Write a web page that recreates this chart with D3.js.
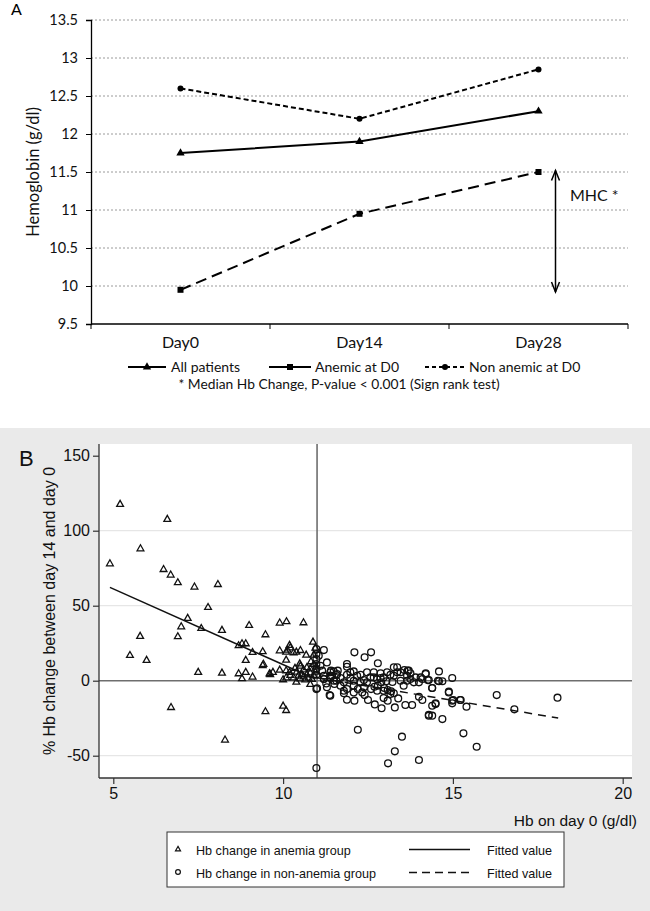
<!DOCTYPE html>
<html><head><meta charset="utf-8">
<script src="https://cdn.jsdelivr.net/npm/d3@7"></script>
<style>html,body{margin:0;padding:0;background:#fff;}svg{display:block;}</style>
</head><body>
<script>
// ---------- Panel A data ----------
const daysA = ["Day0", "Day14", "Day28"];
const allPatients = [11.75, 11.9, 12.3];
const anemicD0 = [9.95, 10.95, 11.5];
const nonAnemicD0 = [12.6, 12.2, 12.85];
const yTicksA = [9.5, 10, 10.5, 11, 11.5, 12, 12.5, 13, 13.5];
const seriesNamesA = ["All patients", "Anemic at D0", "Non anemic at D0"];
const mhcRange = [11.52, 9.92];

// ---------- Panel B data ----------
const anemiaPts = [
[4.90,78.2],[5.20,117.8],[5.80,88.2],[6.59,107.8],[6.48,74.4],[6.69,70.7],[6.90,65.6],[7.39,62.7],
[8.08,64.4],[7.79,49.1],[7.19,41.8],[7.00,36.2],[7.59,35.1],[8.20,33.8],[9.00,37.1],[9.90,38.7],
[10.10,39.6],[10.60,38.9],[5.79,29.8],[5.49,17.1],[5.98,13.8],[6.90,29.6],[8.69,23.6],[8.79,24.9],
[8.90,24.9],[9.48,30.9],[9.10,19.1],[9.40,19.6],[8.90,13.8],[9.40,10.4],[9.42,11.2],[9.90,20.2],
[10.09,19.3],[10.19,23.8],[10.21,22.2],[10.39,19.3],[10.51,20.4],[10.09,14.0],[10.49,11.5],[10.51,10.0],
[10.88,26.0],[10.68,17.3],[10.90,17.3],[10.82,12.9],[10.90,11.1],[10.31,18.9],[10.13,20.6],[10.95,22.0],
[7.50,5.8],[8.20,5.3],[8.69,4.9],[8.90,5.8],[8.79,1.6],[9.10,2.7],[9.60,4.9],[9.70,5.8],
[9.90,7.3],[10.09,6.9],[10.19,5.8],[10.00,0.9],[10.09,2.2],[10.39,-0.7],[6.70,-17.6],[8.29,-39.3],
[9.48,-20.4],[10.00,-16.7],[10.09,-19.6],[10.80,-2.2],[9.62,4.4],[10.21,3.8],[10.31,2.2],[10.45,3.5],
[10.50,1.5],[10.55,4.5],[10.60,2.8],[10.65,0.8],[10.70,4.2],[10.75,2.0],[10.80,5.5],[10.85,1.2],
[10.90,3.8],[10.95,6.0],[10.60,7.5],[10.70,9.0],[10.40,6.0],[10.35,8.5],[10.80,8.2],[10.98,9.5]
];
const nonAnemiaPts = [
[10.98,21.1],[10.98,17.8],[10.98,14.4],[10.98,11.1],[10.98,7.8],[10.98,4.0],[11.20,20.4],[11.29,12.2],
[11.10,10.0],[11.15,6.7],[11.20,3.3],[10.98,-5.6],[10.98,-58.2],[11.29,-4.4],[11.39,-10.0],[11.20,1.1],
[11.39,5.6],[11.49,6.2],[11.59,4.4],[11.44,3.3],[11.69,1.8],[11.79,-1.1],[11.57,0.0],[11.88,11.1],
[11.88,9.3],[12.10,18.9],[12.40,15.6],[12.59,18.9],[12.79,11.6],[11.98,5.6],[12.08,6.2],[12.18,3.3],
[12.28,4.0],[11.98,1.8],[12.08,0.0],[12.38,0.4],[12.47,5.6],[12.57,2.2],[12.67,2.2],[12.77,0.9],
[12.87,1.8],[12.96,2.2],[13.06,5.6],[13.16,4.0],[13.26,8.9],[13.36,8.9],[13.46,5.6],[13.57,7.1],
[13.67,6.7],[13.75,4.9],[13.90,2.2],[14.00,-1.1],[14.10,1.1],[14.20,4.9],[14.29,0.4],[14.59,6.2],
[14.59,-0.4],[14.69,-0.4],[14.98,1.8],[14.88,-7.3],[14.98,-15.1],[15.01,-12.9],[15.21,-12.9],[15.40,-17.3],
[14.69,-25.6],[14.29,-23.3],[14.39,-23.3],[14.39,-16.7],[14.49,-15.6],[14.39,-4.9],[14.10,-12.9],[14.00,-10.7],
[13.80,-16.2],[13.60,-16.2],[13.29,-17.8],[13.39,-11.8],[12.90,-18.4],[12.70,-15.8],[12.50,-12.9],[12.10,-13.3],
[11.88,-12.7],[12.96,-11.6],[13.08,-13.3],[13.16,-8.9],[13.26,-8.4],[11.79,-6.7],[11.88,-5.6],[11.79,-8.4],
[12.08,-7.8],[12.20,-5.6],[12.33,-7.8],[12.40,-9.6],[12.59,-5.6],[12.69,-4.0],[12.79,-3.3],[12.89,-1.1],
[12.98,-4.9],[13.08,-6.2],[13.18,-7.1],[12.20,-32.7],[13.50,-37.3],[13.29,-47.1],[13.09,-55.1],[14.00,-52.9],
[15.31,-35.1],[15.70,-44.0],[16.29,-9.6],[16.81,-19.1],[18.08,-11.3],[13.36,5.6],[13.65,3.3],[13.46,0.0],
[13.65,0.0],[13.85,-1.1],[12.67,5.6],[12.87,4.9],[12.47,-1.1],[12.28,-1.1],[11.49,0.0],[11.69,-3.3],
[12.38,-4.4],[12.08,-3.3],[12.77,-6.7],[12.96,-6.7],[13.55,-3.3],[13.70,6.7],[13.26,3.3],[11.39,2.2],
[11.27,-1.8],[14.05,2.2],[13.75,1.1],[11.88,4.0],[13.04,-0.4],[13.22,-0.9],[11.05,16.7],[11.41,6.7],
[11.61,6.7],[11.39,3.3],[11.57,3.8],[11.20,1.1],[11.37,-9.6],[11.51,-2.2],[14.20,4.4],[14.26,0.4],
[14.56,0.0],[14.39,-4.9],[14.88,-7.8],[14.49,-15.1],[14.98,-13.3],[15.23,-12.9],[14.29,-22.7],[11.00,-5.0]
];
const fitAnemia = [[4.9, 62.2], [10.95, 1.1]];
const fitNonAnemia = [[11.0, 2.0], [18.1, -24.9]];
const xTicksB = [5, 10, 15, 20];
const yTicksB = [-50, 0, 50, 100, 150];
const gridB = [-50, 50, 100];
const legendB = ["Hb change in anemia group", "Hb change in non-anemia group", "Fitted value", "Fitted value"];

const W = 650, H = 911;
const svg = d3.select("body").append("svg").attr("width", W).attr("height", H);

// ================= PANEL A =================
const fA = "Lato, 'Open Sans', sans-serif";
const xA = d3.scaleBand().domain(daysA).range([91, 628]);
const yA = d3.scaleLinear().domain([9.5, 13.5]).range([324, 20]);
const gA = svg.append("g");

gA.append("text").attr("x", 11).attr("y", 15).attr("font-family", fA).attr("font-size", 16).text("A");

// gridlines
gA.append("g").selectAll("line").data(yTicksA.slice(1)).join("line")
  .attr("x1", 91).attr("x2", 628).attr("y1", d => yA(d)).attr("y2", d => yA(d))
  .attr("stroke", "#9a9a9a").attr("stroke-width", 1).attr("stroke-dasharray", "2,2");

// y axis
const yAxisA = gA.append("g").attr("transform", "translate(91,0)")
  .call(d3.axisLeft(yA).tickValues(yTicksA).tickSize(5).tickPadding(8).tickFormat(d => String(d)));
yAxisA.select(".domain").attr("stroke", "#000").attr("stroke-width", 1.3);
yAxisA.selectAll(".tick line").attr("stroke", "#000");
yAxisA.selectAll("text").attr("font-family", fA).attr("font-size", 14.5).attr("fill", "#111");

// x axis
const xAxisA = gA.append("g").attr("transform", "translate(0,324)");
xAxisA.append("line").attr("x1", 91).attr("x2", 628).attr("y1", 0).attr("y2", 0).attr("stroke", "#000").attr("stroke-width", 1.3);
const bounds = daysA.map(d => xA(d)).concat([xA(daysA[daysA.length-1]) + xA.bandwidth()]);
xAxisA.selectAll("line.tk").data(bounds).join("line").attr("class", "tk")
  .attr("x1", d => d).attr("x2", d => d).attr("y1", 0).attr("y2", 5).attr("stroke", "#000");
xAxisA.selectAll("text").data(daysA).join("text")
  .attr("x", d => xA(d) + xA.bandwidth()/2).attr("y", 24).attr("text-anchor", "middle")
  .attr("font-family", fA).attr("font-size", 16).attr("fill", "#111").text(d => d);

gA.append("text").attr("transform", `translate(39,${yA(11.5)}) rotate(-90)`).attr("text-anchor", "middle")
  .attr("font-family", fA).attr("font-size", 16.5).attr("fill", "#111").text("Hemoglobin (g/dl)");

const cx = d => xA(d) + xA.bandwidth()/2;
const seriesA = [
  {vals: allPatients, dash: null, marker: "tri"},
  {vals: anemicD0, dash: "11,6", marker: "sq"},
  {vals: nonAnemicD0, dash: "5,3", marker: "circ"}
];
const lineA = d3.line().x((v, i) => cx(daysA[i])).y(v => yA(v));
function markerA(g, type, x, y) {
  if (type === "tri") g.append("path").attr("d", d3.symbol(d3.symbolTriangle, 30)()).attr("transform", `translate(${x},${y})`).attr("fill", "#000");
  else if (type === "sq") g.append("rect").attr("x", x-3).attr("y", y-3).attr("width", 6).attr("height", 6).attr("fill", "#000");
  else g.append("circle").attr("cx", x).attr("cy", y).attr("r", 3).attr("fill", "#000");
}
seriesA.forEach(s => {
  gA.append("path").attr("d", lineA(s.vals)).attr("fill", "none").attr("stroke", "#000").attr("stroke-width", 2)
    .attr("stroke-dasharray", s.dash);
  s.vals.forEach((v, i) => markerA(gA, s.marker, cx(daysA[i]), yA(v)));
});

// MHC arrow
const ax = 555.5;
const y1 = yA(mhcRange[0]), y2 = yA(mhcRange[1]);
gA.append("line").attr("x1", ax).attr("x2", ax).attr("y1", y1).attr("y2", y2).attr("stroke", "#000").attr("stroke-width", 1.5);
gA.append("path").attr("d", `M${ax-4},${y1+10}L${ax},${y1}L${ax+4},${y1+10}M${ax-4},${y2-10}L${ax},${y2}L${ax+4},${y2-10}`)
  .attr("fill", "none").attr("stroke", "#000").attr("stroke-width", 1.5);
gA.append("text").attr("x", 570).attr("y", yA(11.2) + 6).attr("font-family", fA).attr("font-size", 16).attr("fill", "#111").text("MHC *");

// legend A
const legA = [
  {x1: 128, x2: 166, tx: 171, s: seriesA[0], name: seriesNamesA[0]},
  {x1: 269, x2: 311, tx: 315, s: seriesA[1], name: seriesNamesA[1]},
  {x1: 425, x2: 465, tx: 469, s: seriesA[2], name: seriesNamesA[2]}
];
legA.forEach(l => {
  gA.append("line").attr("x1", l.x1).attr("x2", l.x2).attr("y1", 367).attr("y2", 367).attr("stroke", "#000").attr("stroke-width", 2)
    .attr("stroke-dasharray", l.s.dash === "11,6" ? null : (l.s.dash ? "4,3" : null));
  markerA(gA, l.s.marker, (l.x1 + l.x2)/2, 367);
  gA.append("text").attr("x", l.tx).attr("y", 372).attr("font-family", fA).attr("font-size", 14).attr("fill", "#111").text(l.name);
});
gA.append("text").attr("x", 339).attr("y", 389).attr("text-anchor", "middle").attr("font-family", fA).attr("font-size", 13.8)
  .attr("fill", "#111").text("* Median Hb Change, P-value < 0.001 (Sign rank test)");

// ================= PANEL B =================
const fB = "'Liberation Sans', Arial, Helvetica, sans-serif";
const gB = svg.append("g");
gB.append("rect").attr("x", 0).attr("y", 428).attr("width", W).attr("height", H - 428).attr("fill", "#eaeaea");
const pl = 99, pr = 632, pt = 444, pb = 778;
gB.append("rect").attr("x", pl).attr("y", pt).attr("width", pr - pl).attr("height", pb - pt).attr("fill", "#fff");

const xB = d3.scaleLinear().domain([5, 20]).range([113.3, 622.7]);
const yB = d3.scaleLinear().domain([-50, 150]).range([755.7, 455.7]);

gB.append("g").selectAll("line").data(gridB).join("line")
  .attr("x1", pl).attr("x2", pr).attr("y1", d => yB(d)).attr("y2", d => yB(d)).attr("stroke", "#e6e6e6").attr("stroke-width", 1.3);

// reference lines
gB.append("line").attr("x1", pl).attr("x2", pr).attr("y1", yB(0)).attr("y2", yB(0)).attr("stroke", "#6e6e6e").attr("stroke-width", 1.4);
gB.append("line").attr("x1", xB(11)).attr("x2", xB(11)).attr("y1", pt).attr("y2", pb).attr("stroke", "#6e6e6e").attr("stroke-width", 1.6);

// axes
const yAxisB = gB.append("g").attr("transform", `translate(${pl},0)`)
  .call(d3.axisLeft(yB).tickValues(yTicksB).tickSize(6).tickPadding(3).tickFormat(d => String(d)));
yAxisB.select(".domain").attr("d", `M0,${pt}V${pb}`).attr("stroke", "#333").attr("stroke-width", 1.3);
yAxisB.selectAll(".tick line").attr("stroke", "#333").attr("stroke-width", 1.2);
yAxisB.selectAll("text").attr("font-family", fB).attr("font-size", 16).attr("fill", "#111");

const xAxisB = gB.append("g").attr("transform", `translate(0,${pb})`)
  .call(d3.axisBottom(xB).tickValues(xTicksB).tickSize(6).tickPadding(4).tickFormat(d => String(d)));
xAxisB.select(".domain").attr("d", `M${pl},0H${pr}`).attr("stroke", "#333").attr("stroke-width", 1.3);
xAxisB.selectAll(".tick line").attr("stroke", "#333").attr("stroke-width", 1.2);
xAxisB.selectAll("text").attr("font-family", fB).attr("font-size", 16).attr("fill", "#111");

gB.append("text").attr("x", 637).attr("y", 826).attr("text-anchor", "end").attr("font-family", fB).attr("font-size", 15.5).attr("fill", "#111").text("Hb on day 0 (g/dl)");
gB.append("text").attr("transform", `translate(55,611) rotate(-90)`).attr("text-anchor", "middle").attr("font-family", fB).attr("font-size", 16).attr("fill", "#111").text("% Hb change between day 14 and day 0");
gB.append("text").attr("x", 19).attr("y", 466).attr("font-family", fB).attr("font-size", 22).attr("fill", "#111").text("B");

// points
const triPath = "M0,-3.6L3.4,2.4L-3.4,2.4Z";
gB.append("g").selectAll("path").data(anemiaPts).join("path")
  .attr("d", triPath).attr("transform", d => `translate(${xB(d[0])},${yB(d[1])})`)
  .attr("fill", "none").attr("stroke", "#111").attr("stroke-width", 1.3);
gB.append("g").selectAll("circle").data(nonAnemiaPts).join("circle")
  .attr("cx", d => xB(d[0])).attr("cy", d => yB(d[1])).attr("r", 3.4)
  .attr("fill", "none").attr("stroke", "#111").attr("stroke-width", 1.3);

// fitted lines
const lineB = d3.line().x(d => xB(d[0])).y(d => yB(d[1]));
gB.append("path").attr("d", lineB(fitAnemia)).attr("stroke", "#111").attr("stroke-width", 1.5).attr("fill", "none");
gB.append("path").attr("d", lineB(fitNonAnemia)).attr("stroke", "#111").attr("stroke-width", 1.5).attr("fill", "none").attr("stroke-dasharray", "8,6");

// legend B
const lg = gB.append("g");
lg.append("rect").attr("x", 167).attr("y", 832).attr("width", 397).attr("height", 55).attr("fill", "#fff").attr("stroke", "#333").attr("stroke-width", 1);
lg.append("path").attr("d", "M0,-2.6L2.5,1.8L-2.5,1.8Z").attr("transform", "translate(178,849)").attr("fill", "none").attr("stroke", "#111").attr("stroke-width", 1.2);
lg.append("circle").attr("cx", 178).attr("cy", 872).attr("r", 2.4).attr("fill", "none").attr("stroke", "#111").attr("stroke-width", 1.2);
[[legendB[0], 855], [legendB[1], 878]].forEach(([t, y]) => lg.append("text").attr("x", 196).attr("y", y).attr("font-family", fB).attr("font-size", 12.6).attr("fill", "#111").text(t));
lg.append("line").attr("x1", 409).attr("x2", 470).attr("y1", 849.5).attr("y2", 849.5).attr("stroke", "#111").attr("stroke-width", 1.3);
lg.append("line").attr("x1", 409).attr("x2", 470).attr("y1", 872.5).attr("y2", 872.5).attr("stroke", "#111").attr("stroke-width", 1.3).attr("stroke-dasharray", "8,5");
[[legendB[2], 855], [legendB[3], 878]].forEach(([t, y]) => lg.append("text").attr("x", 487).attr("y", y).attr("font-family", fB).attr("font-size", 12.6).attr("fill", "#111").text(t));
</script>
</body></html>
